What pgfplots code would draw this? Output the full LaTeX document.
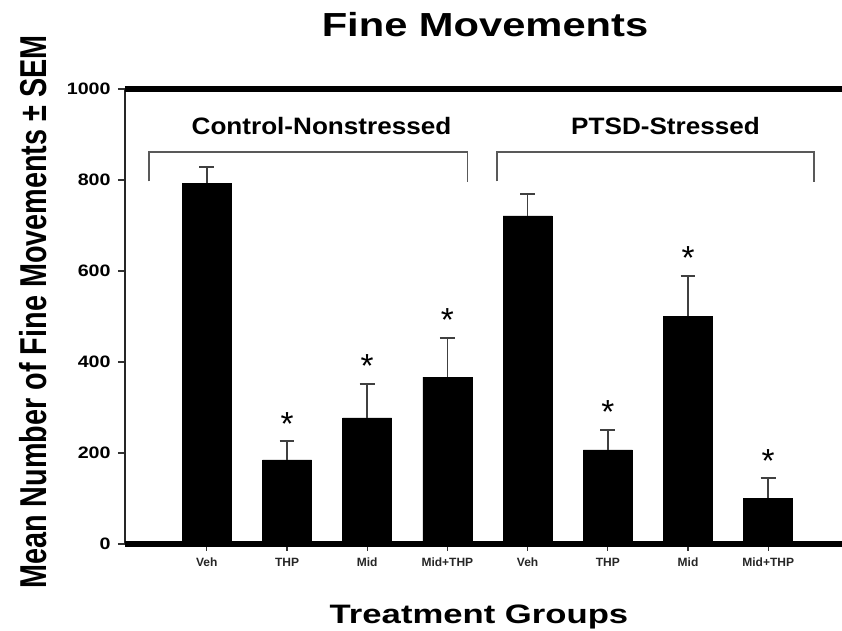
\documentclass[border=0pt]{standalone}
\usepackage{pgfplots}
\pgfplotsset{compat=1.18}
\usepackage{fontspec}
\setmainfont{Liberation Sans}
\usepackage{graphicx}
\pgfplotstableread{
x y e
0 793 36
1 185 41
2 277 75
3 367 86
4 721 48
5 207 44
6 501 88
7 101 44
}\bars
\begin{document}
\begin{tikzpicture}
\begin{axis}[
  name=ax,
  scale only axis,
  width=537.75pt, height=341.25pt,
  xmin=-1.02, xmax=7.92, ymin=0, ymax=1000,
  axis line style={draw=none},
  clip=false,
  ytick={0,200,400,600,800,1000},
  xtick={0,...,7},
  xticklabels={Veh,THP,Mid,Mid+THP,Veh,THP,Mid,Mid+THP},
  tick align=outside,
  tick pos=left,
  major tick length=5.25pt,
  ytick style={line width=0.8pt, black!80},
  xtick style={line width=0.8pt, black!80},
  /pgf/number format/assume math mode=true,
  /pgf/number format/1000 sep={},
  yticklabel={\scalebox{1.19}[1]{\pgfmathprintnumber{\tick}}},
  yticklabel style={font=\fontsize{12.4}{12}\selectfont\bfseries, xshift=-2pt},
  xticklabel style={font=\fontsize{9}{9}\selectfont\bfseries, text=black!85, anchor=base, yshift=-11.5pt},
]
\addplot[ybar, bar width=36.75pt, fill=black, draw=black,
  error bars/.cd, y dir=plus, y explicit,
  error mark=|,
  error bar style={line width=1.3pt, black!75},
  error mark options={line width=1.3pt, black!75, mark size=5.6pt}]
  table[x=x, y=y, y error=e] {\bars};
\addplot[draw=none, mark=none, nodes near coords={*},
  nodes near coords style={font=\fontsize{25}{25}\selectfont, anchor=base, yshift=4.5pt, inner sep=0pt}]
  coordinates {(1,226) (2,352) (3,453) (5,251) (6,589) (7,145)};
\draw[line width=1.5pt, black!85] (rel axis cs:0,0) -- (rel axis cs:0,1);
\draw[line width=4.5pt] (rel axis cs:0,1) -- (rel axis cs:1,1);
\draw[line width=4.5pt] (rel axis cs:0,0) -- (rel axis cs:1,0);
\draw[line width=1.2pt, black!65] (axis cs:-0.72,797) -- (axis cs:-0.72,862) -- (axis cs:3.25,862) -- (axis cs:3.25,795);
\draw[line width=1.2pt, black!65] (axis cs:3.62,797) -- (axis cs:3.62,862) -- (axis cs:7.57,862) -- (axis cs:7.57,795);
\node[anchor=base, font=\fontsize{17.8}{18}\selectfont\bfseries] at (axis cs:1.43,899) {\scalebox{1.1}[1]{Control-Nonstressed}};
\node[anchor=base, font=\fontsize{17.8}{18}\selectfont\bfseries] at (axis cs:5.72,899) {\scalebox{1.1}[1]{PTSD-Stressed}};
\end{axis}
\node[anchor=base, font=\fontsize{25}{25}\selectfont\bfseries] at ([shift={(270pt,380.25pt)}]ax.south west) {\scalebox{1.25}[1]{Fine Movements}};
\node[anchor=base, font=\fontsize{20}{20}\selectfont\bfseries] at ([shift={(265.5pt,-60pt)}]ax.south west) {\scalebox{1.3}[1]{Treatment Groups}};
\node[rotate=90, anchor=base, font=\fontsize{21.6}{21.6}\selectfont\bfseries] at ([shift={(-58.5pt,174pt)}]ax.south west) {\scalebox{1}[1.3]{Mean Number of Fine Movements ± SEM}};
\pgfresetboundingbox
\path[use as bounding box] ([shift={(-93.75pt,-65.25pt)}]ax.south west) rectangle ++(631.5pt,473.25pt);
\end{tikzpicture}
\end{document}
